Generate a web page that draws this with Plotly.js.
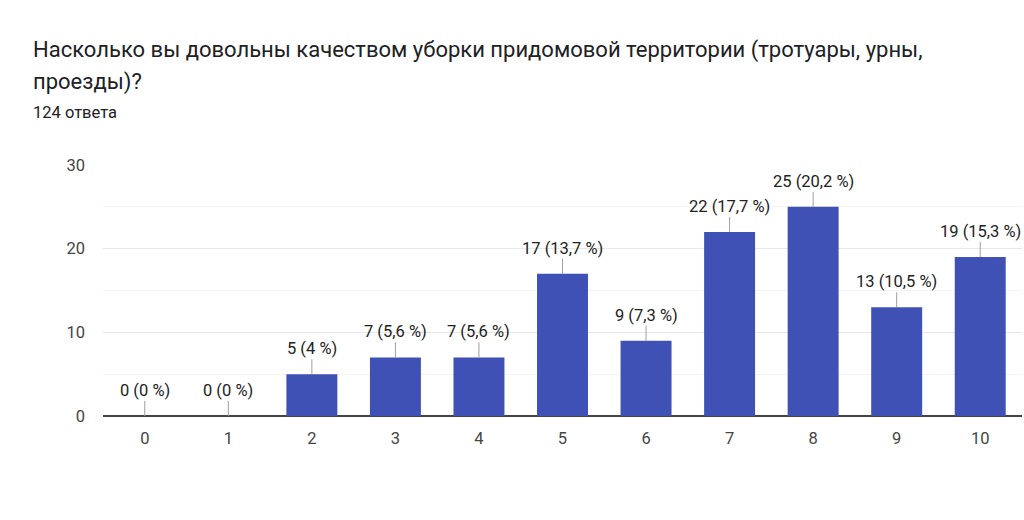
<!DOCTYPE html>
<html>
<head>
<meta charset="utf-8">
<script src="https://cdn.plot.ly/plotly-3.0.1.min.js"></script>
<style>
  html, body { margin: 0; padding: 0; background: #fff; }
  #chart { width: 1024px; height: 520px; }
</style>
</head>
<body>
<div id="chart"></div>
<script>
let categories = ['0', '1', '2', '3', '4', '5', '6', '7', '8', '9', '10']
let counts = [0, 0, 5, 7, 7, 17, 9, 22, 25, 13, 19]
let percents = ['0', '0', '4', '5,6', '5,6', '13,7', '7,3', '17,7', '20,2', '10,5', '15,3']

let labels = counts.map((c, i) => c + ' (' + percents[i] + ' %)')

let FONT = 'Roboto, Arial, sans-serif'

let trace = {
    x: categories,
    y: counts,
    type: 'bar',
    marker: { color: '#3f51b5' },
    hoverinfo: 'none'
}

let notes = categories.map((c, i) => ({
    x: c,
    y: counts[i],
    xref: 'x',
    yref: 'y',
    text: labels[i],
    showarrow: true,
    arrowhead: 0,
    arrowwidth: 1,
    arrowcolor: '#9e9e9e',
    ax: 0,
    ay: -15,
    yanchor: 'bottom',
    borderpad: 0,
    font: { family: FONT, size: 16.5, color: '#222' }
}))

// header text lines, placed in paper units (plot is 919 x 251 px, origin at 103,416)
let header = [
    { text: 'Насколько вы довольны качеством уборки придомовой территории (тротуары, урны,', top: 50, size: 22 },
    { text: 'проезды)?', top: 82, size: 22 },
    { text: '124 ответа', top: 112, size: 16.5 }
]
header.forEach(h => notes.push({
    xref: 'paper',
    yref: 'paper',
    x: -72 / 919,
    y: (416 - h.top) / 251,
    xanchor: 'left',
    yanchor: 'middle',
    showarrow: false,
    text: h.text,
    font: { family: FONT, size: h.size, color: '#202124' }
}))

let layout = {
    width: 1024,
    height: 520,
    margin: { l: 103, r: 2, t: 165, b: 104 },
    paper_bgcolor: '#fff',
    plot_bgcolor: '#fff',
    showlegend: false,
    bargap: 0.39,
    font: { family: FONT, color: '#444' },
    xaxis: {
        type: 'category',
        showgrid: false,
        ticks: '',
        ticklabelstandoff: 10,
        tickfont: { size: 16.5, color: '#444' },
        fixedrange: true
    },
    yaxis: {
        range: [0, 30],
        tickvals: [0, 10, 20, 30],
        showgrid: true,
        gridcolor: '#e8e8e8',
        zeroline: true,
        zerolinecolor: '#444',
        zerolinewidth: 2,
        ticks: '',
        ticklabelstandoff: 17,
        tickfont: { size: 16.5, color: '#444' },
        minor: { tickvals: [5, 15, 25], showgrid: true, gridcolor: '#f4f4f4', ticks: '' },
        fixedrange: true
    },
    annotations: notes
}

Plotly.newPlot('chart', [trace], layout, { displayModeBar: false, staticPlot: true })
</script>
</body>
</html>
